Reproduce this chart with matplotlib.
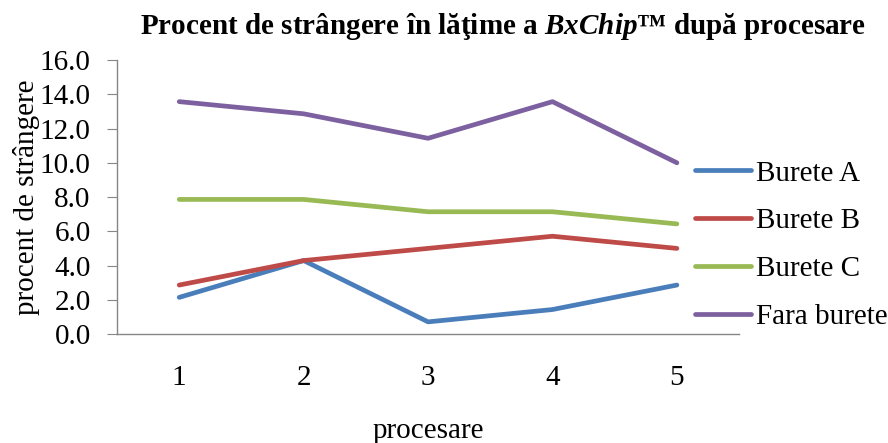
import numpy as np
import matplotlib
matplotlib.use("Agg")
import matplotlib.pyplot as plt

plt.rcParams['font.family'] = ['Liberation Serif', 'DejaVu Serif']
plt.rcParams['mathtext.fontset'] = 'custom'
plt.rcParams['mathtext.it'] = 'Liberation Serif:bold:italic'
plt.rcParams['mathtext.rm'] = 'Liberation Serif:bold'

# data
procesare = [1, 2, 3, 4, 5]
burete_a = [2.14, 4.29, 0.71, 1.43, 2.86]
burete_b = [2.86, 4.29, 5.00, 5.71, 5.00]
burete_c = [7.86, 7.86, 7.14, 7.14, 6.43]
fara_burete = [13.57, 12.86, 11.43, 13.57, 10.00]

series = [
    ("Burete A", burete_a, "#4A7EBB"),
    ("Burete B", burete_b, "#BE4B48"),
    ("Burete C", burete_c, "#98B954"),
    ("Fara burete", fara_burete, "#7D60A0"),
]

FS = 21

fig = plt.figure(figsize=(8.88, 4.43), dpi=100)
ax = fig.add_axes([0.1318, 0.246, 0.7005, 0.6185])

for name, vals, col in series:
    ax.plot(procesare, vals, color=col, lw=3.4, label=name, solid_capstyle='round')

ax.set_xlim(0.5, 5.5)
ax.set_ylim(0, 16)
ax.set_yticks(np.arange(0, 16.1, 2))
ax.set_yticklabels(["%.1f" % v for v in np.arange(0, 16.1, 2)])
ax.set_xticks(procesare)

for s in ['top', 'right']:
    ax.spines[s].set_visible(False)
for s in ['left', 'bottom']:
    ax.spines[s].set_color('#868686')
    ax.spines[s].set_linewidth(1.0)

ax.tick_params(axis='y', length=7, color='#868686', labelsize=FS, pad=12)
ax.tick_params(axis='x', length=0, labelsize=FS, pad=22)

ax.set_xlabel("procesare", fontsize=FS, labelpad=19.5)
ax.set_ylabel("procent de strângere", fontsize=FS, labelpad=0)

fig.text(0.567, 0.94, r"Procent de strângere în lăţime a $\mathit{BxChip}$™ după procesare",
         ha='center', va='center', fontsize=FS, fontweight='bold')

fig.legend(loc='center left', bbox_to_anchor=(0.783, 0.447), frameon=False,
           fontsize=FS, handlelength=1.9, handletextpad=0.17, labelspacing=0.73,
           borderaxespad=0, borderpad=0)

fig.savefig("out.png", dpi=100)
